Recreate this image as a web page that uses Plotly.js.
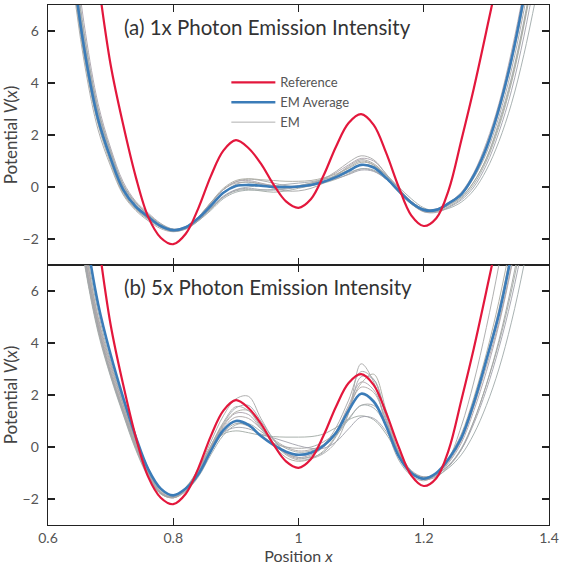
<!DOCTYPE html>
<html>
<head>
<meta charset="utf-8">
<script src="https://cdn.plot.ly/plotly-3.0.1.min.js"></script>
<style>html,body{margin:0;padding:0;background:#fff;}#chart{width:561px;height:567px;}</style>
</head>
<body>
<div id="chart"></div>
<script>
// x grid (position)
const xPos = [0.62,0.64,0.66,0.68,0.70,0.72,0.74,0.76,0.78,0.80,0.82,0.84,0.86,0.88,0.90,0.92,0.94,0.96,0.98,1.00,1.02,1.04,1.06,1.08,1.10,1.12,1.14,1.16,1.18,1.20,1.22,1.24,1.26,1.28,1.30,1.32,1.34,1.36,1.38];

// reference potential (same in both panels)
const refV = [22,16.5,12,8.0,4.7,2.4,0.4,-1.15,-1.95,-2.2,-1.8,-0.82,0.42,1.4,1.8,1.5,0.9,0.1,-0.55,-0.8,-0.46,0.44,1.56,2.46,2.8,2.39,1.31,0.0,-1.09,-1.5,-1.2,-0.1,1.8,3.8,6.0,8.3,11,14.5,18.5];

// (a) 1x photon emission intensity
const avg1x = [13,8.4,5.0,2.6,1.1,-0.1,-0.75,-1.15,-1.5,-1.66,-1.55,-1.2,-0.72,-0.22,0.04,0.08,0.05,0.0,0.0,0.02,0.08,0.2,0.38,0.62,0.85,0.75,0.35,-0.15,-0.6,-0.88,-0.88,-0.62,-0.28,0.45,1.5,3.0,4.9,7.3,10.2];
const em1x_1 = [12.2,7.8,4.5,2.2,0.8,-0.3,-0.9,-1.3,-1.6,-1.72,-1.6,-1.2,-0.65,-0.1,0.2,0.3,0.25,0.15,0.05,0.0,0.05,0.2,0.45,0.75,1.0,0.85,0.35,-0.2,-0.65,-0.92,-0.9,-0.65,-0.3,0.35,1.3,2.7,4.5,6.8,9.6];
const em1x_2 = [13.8,9.0,5.5,3.0,1.4,0.1,-0.6,-1.05,-1.45,-1.65,-1.6,-1.3,-0.85,-0.4,-0.15,-0.1,-0.15,-0.2,-0.15,-0.05,0.05,0.15,0.3,0.5,0.7,0.65,0.3,-0.2,-0.65,-0.95,-0.95,-0.75,-0.45,0.1,1.0,2.3,4.0,6.2,8.8];
const em1x_3 = [14.5,9.6,5.9,3.2,1.5,0.2,-0.55,-1.0,-1.4,-1.62,-1.52,-1.15,-0.6,-0.1,0.2,0.25,0.15,0.05,0.0,0.0,0.1,0.3,0.55,0.85,1.1,1.0,0.5,-0.05,-0.55,-0.85,-0.85,-0.6,-0.2,0.55,1.7,3.2,5.2,7.6,10.5];
const em1x_4 = [12.8,8.2,4.9,2.5,1.0,-0.2,-0.85,-1.25,-1.55,-1.7,-1.62,-1.3,-0.8,-0.35,-0.1,0.0,0.05,0.05,0.1,0.15,0.2,0.3,0.4,0.55,0.7,0.62,0.3,-0.15,-0.6,-0.9,-0.92,-0.7,-0.4,0.2,1.1,2.5,4.2,6.4,9.0];
const em1x_5 = [13.2,8.6,5.2,2.8,1.2,0.0,-0.7,-1.12,-1.48,-1.66,-1.58,-1.25,-0.75,-0.25,0.1,0.2,0.1,-0.05,-0.15,-0.15,-0.05,0.15,0.45,0.8,1.05,0.9,0.45,-0.1,-0.55,-0.85,-0.86,-0.6,-0.25,0.5,1.6,3.1,5.0,7.4,10.3];
const em1x_6 = [12.5,8.0,4.7,2.4,0.9,-0.25,-0.85,-1.22,-1.55,-1.7,-1.58,-1.18,-0.6,-0.05,0.25,0.32,0.28,0.25,0.22,0.22,0.25,0.35,0.5,0.72,0.95,0.85,0.4,-0.1,-0.58,-0.88,-0.9,-0.68,-0.38,0.2,1.1,2.4,4.1,6.3,8.9];
const em1x_7 = [13.5,8.8,5.3,2.9,1.3,0.05,-0.65,-1.1,-1.48,-1.68,-1.6,-1.28,-0.82,-0.38,-0.12,-0.05,-0.1,-0.12,-0.08,0.0,0.1,0.2,0.32,0.48,0.65,0.6,0.3,-0.15,-0.62,-0.95,-0.98,-0.78,-0.5,0.0,0.85,2.1,3.7,5.8,8.3];
const em1x_8 = [13,8.4,5.0,2.6,1.05,-0.15,-0.8,-1.2,-1.52,-1.68,-1.55,-1.15,-0.6,-0.1,0.15,0.18,0.12,0.05,0.02,0.05,0.15,0.32,0.6,0.95,1.2,1.05,0.5,-0.05,-0.55,-0.85,-0.85,-0.6,-0.25,0.45,1.5,2.9,4.8,7.1,9.9];
const em1x_9 = [14,9.2,5.6,3.0,1.35,0.1,-0.6,-1.05,-1.42,-1.62,-1.58,-1.3,-0.9,-0.45,-0.2,-0.12,-0.12,-0.1,-0.05,0.05,0.15,0.28,0.45,0.65,0.85,0.8,0.45,0.0,-0.45,-0.8,-0.92,-0.82,-0.58,-0.12,0.65,1.75,3.2,5.1,7.4];

// (b) 5x photon emission intensity
const avg5x = [17,12,8.3,5.5,3.55,1.9,0.4,-0.85,-1.6,-1.86,-1.6,-1.05,-0.15,0.65,1.0,0.85,0.42,0.08,-0.18,-0.3,-0.22,0.05,0.55,1.4,2.05,1.75,0.8,-0.35,-1.0,-1.22,-1.0,-0.45,0.35,1.7,3.35,5.1,7.4,10.0,13];
const em5x_1 = [14.8,10.3,7.0,4.6,2.8,1.35,0.0,-1.1,-1.8,-1.95,-1.6,-0.85,0.2,1.2,1.85,1.95,1.1,0.3,-0.25,-0.45,-0.35,0.05,0.75,1.8,2.9,2.6,1.1,-0.3,-1.0,-1.2,-1.0,-0.45,0.4,1.75,3.4,5.3,7.6,10.2,13.3];
const em5x_2 = [14.3,10.0,6.8,4.4,2.7,1.25,-0.1,-1.15,-1.8,-1.92,-1.55,-0.85,0.0,0.5,0.62,0.55,0.45,0.4,0.38,0.38,0.4,0.5,0.75,1.05,1.2,1.05,0.5,-0.3,-0.95,-1.15,-1.05,-0.7,-0.05,1.0,2.4,4.0,6.0,8.4,11.2];
const em5x_3 = [15.3,10.7,7.3,4.8,3.0,1.5,0.15,-1.0,-1.75,-1.95,-1.65,-1.0,-0.05,0.8,1.3,1.25,0.7,0.15,-0.25,-0.4,-0.3,0.0,0.6,1.6,2.5,2.2,1.0,-0.3,-1.0,-1.25,-1.1,-0.6,0.15,1.4,2.9,4.7,6.9,9.4,12.3];
const em5x_4 = [14.6,10.2,6.9,4.5,2.75,1.3,-0.05,-1.1,-1.78,-1.9,-1.55,-0.9,0.05,0.9,1.5,1.6,1.0,0.3,-0.2,-0.4,-0.4,-0.2,0.4,1.3,2.7,2.6,1.2,-0.2,-0.95,-1.2,-1.05,-0.5,0.35,1.7,3.3,5.1,7.3,9.9,12.9];
const em5x_5 = [15.8,11.1,7.6,5.0,3.2,1.65,0.25,-0.9,-1.7,-1.95,-1.7,-1.1,-0.2,0.55,0.9,0.8,0.45,0.15,0.0,-0.05,0.0,0.2,0.55,1.1,1.6,1.6,0.9,-0.2,-0.95,-1.25,-1.15,-0.75,-0.1,1.0,2.4,4.1,6.2,8.7,11.6];
const em5x_6 = [15.0,10.5,7.2,4.7,2.9,1.45,0.1,-1.0,-1.75,-1.95,-1.62,-0.95,0.0,0.85,1.35,1.4,0.8,0.1,-0.4,-0.55,-0.45,-0.15,0.45,1.5,2.45,2.8,1.4,-0.2,-1.0,-1.2,-1.0,-0.4,0.5,1.9,3.6,5.6,8.0,10.8,14];
const em5x_7 = [14.8,10.4,7.1,4.65,2.85,1.4,0.05,-1.05,-1.77,-1.92,-1.6,-0.95,-0.1,0.55,0.75,0.7,0.5,0.35,0.2,0.05,-0.05,-0.05,0.2,0.7,1.15,1.1,0.6,-0.2,-0.9,-1.15,-1.05,-0.7,-0.1,0.9,2.2,3.8,5.7,8.0,10.7];
const em5x_8 = [14.4,10.1,6.9,4.5,2.8,1.35,0.0,-1.1,-1.8,-1.95,-1.6,-0.9,0.05,0.95,1.55,1.4,0.75,0.15,-0.3,-0.5,-0.45,-0.25,0.2,1.3,3.2,2.5,0.8,-0.5,-1.1,-1.3,-1.05,-0.45,0.8,2.5,4.6,7.0,9.8,13,16.5];
const em5x_9 = [16.3,11.4,7.8,5.2,3.3,1.75,0.35,-0.8,-1.65,-1.92,-1.7,-1.15,-0.3,0.45,0.85,0.9,0.6,0.25,-0.05,-0.2,-0.15,0.05,0.45,1.05,1.6,1.5,0.8,-0.25,-0.95,-1.2,-1.1,-0.8,-0.3,0.5,1.6,3.0,4.8,7.0,9.6];
const em5x_10 = [15.6,10.9,7.5,4.9,3.1,1.6,0.2,-0.95,-1.72,-1.95,-1.65,-1.0,-0.05,0.75,1.15,1.1,0.7,0.3,0.0,-0.15,-0.1,0.1,0.6,1.5,2.3,2.1,1.0,-0.3,-1.0,-1.22,-1.05,-0.55,0.25,1.55,3.1,4.8,7.0,9.6,12.6];

const seriesNames = ['Reference','EM Average','EM'];
const panelTitles = ['(a) 1x Photon Emission Intensity','(b) 5x Photon Emission Intensity'];
const yTicks = [-2,0,2,4,6];
const xTicks = [0.6,0.8,1.0,1.2,1.4];

const em1x = [em1x_1,em1x_2,em1x_3,em1x_4,em1x_5,em1x_6,em1x_7,em1x_8,em1x_9];
const em5x = [em5x_1,em5x_2,em5x_3,em5x_4,em5x_5,em5x_6,em5x_7,em5x_8,em5x_9,em5x_10];

const greys = ['#a6a6a6','#9fa8a3','#aaa2ab','#9ea6ae','#a3a3a3','#a9a99f','#a0a0aa','#a7a7a7','#9fa9a9','#aba5a5'];
const RED = '#e3173c', BLUE = '#3b7cb8';
const FONT = 'Lato, "Open Sans", sans-serif';

const traces = [];
function addPanel(emList, avg, xa, ya, first){
  emList.forEach((ys,i)=>{
    traces.push({x:xPos, y:ys, xaxis:xa, yaxis:ya, mode:'lines', type:'scatter',
      line:{color:greys[i%greys.length], width:0.9, shape:'spline'},
      name:seriesNames[2], legendrank:3, showlegend: first && i===0, hoverinfo:'skip'});
  });
  traces.push({x:xPos, y:avg, xaxis:xa, yaxis:ya, mode:'lines', type:'scatter',
    line:{color:BLUE, width:2.6, shape:'spline'}, name:seriesNames[1], legendrank:2, showlegend:first});
  traces.push({x:xPos, y:refV, xaxis:xa, yaxis:ya, mode:'lines', type:'scatter',
    line:{color:RED, width:2.2, shape:'spline'}, name:seriesNames[0], legendrank:1, showlegend:first});
}
addPanel(em1x, avg1x, 'x', 'y', true);
addPanel(em5x, avg5x, 'x2', 'y2', false);

const axColor = '#222';
const tickFont = {family:FONT, size:14, color:'#555'};
const xBase = {range:[0.6,1.4], tickvals:xTicks, ticks:'inside', ticklen:7, tickwidth:1.3, tickcolor:axColor,
  showline:true, linecolor:axColor, linewidth:1.4, mirror:'ticks', showgrid:false, zeroline:false, tickfont:tickFont,
  ticklabeloverflow:'allow'};
const yBase = {range:[-3,7], tickvals:yTicks, ticks:'inside', ticklen:7, tickwidth:1.3, tickcolor:axColor,
  showline:true, linecolor:axColor, linewidth:1.4, mirror:'ticks', showgrid:false, zeroline:false, tickfont:tickFont,
  ticklabelstandoff:5,
  title:{text:'Potential <i>V</i>(<i>x</i>)', font:{family:FONT, size:17, color:'#444'}, standoff:2}};

const layout = {
  width:561, height:567,
  margin:{l:48, r:12, t:5, b:42},
  paper_bgcolor:'#fff', plot_bgcolor:'#fff',
  font:{family:FONT, color:'#444'},
  xaxis: Object.assign({}, xBase, {anchor:'y', showticklabels:false, domain:[0,1]}),
  yaxis: Object.assign({}, yBase, {anchor:'x', domain:[0.5,1]}),
  xaxis2: Object.assign({}, xBase, {anchor:'y2', domain:[0,1], matches:'x',
    title:{text:'Position <i>x</i>', font:{family:FONT, size:16, color:'#444'}, standoff:4}}),
  yaxis2: Object.assign({}, yBase, {anchor:'x2', domain:[0,0.5]}),
  showlegend:true,
  legend:{x:0.356, y:0.88, xanchor:'left', yanchor:'top', bgcolor:'rgba(0,0,0,0)', itemwidth:44,
    font:{family:FONT, size:13, color:'#555'}, tracegroupgap:0, traceorder:'normal'},
  annotations:[
    {text:panelTitles[0], xref:'paper', yref:'paper', x:0.148, y:0.957, xanchor:'left', yanchor:'middle', showarrow:false,
     font:{family:FONT, size:20.5, color:'#333'}},
    {text:panelTitles[1], xref:'paper', yref:'paper', x:0.148, y:0.457, xanchor:'left', yanchor:'middle', showarrow:false,
     font:{family:FONT, size:20.5, color:'#333'}}
  ]
};

Plotly.newPlot('chart', traces, layout, {displayModeBar:false, staticPlot:true});
</script>
</body>
</html>
